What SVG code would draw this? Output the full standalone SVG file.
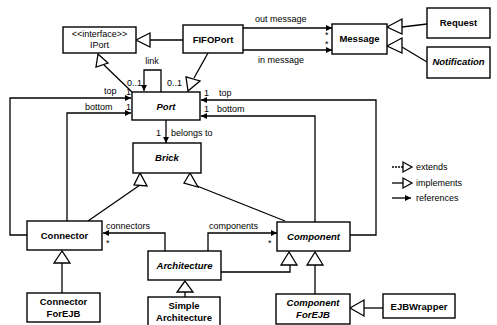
<svg xmlns="http://www.w3.org/2000/svg" width="497" height="325" viewBox="0 0 497 325">
<style>
.box{fill:#fff;stroke:#000;stroke-width:1.4}
.ln{fill:none;stroke:#000;stroke-width:1.3}
.tri{fill:#fff;stroke:#000;stroke-width:1.3}
.n{font-family:"Liberation Sans",Arial,sans-serif;font-size:9.5px;font-weight:bold;text-anchor:middle}
.ni{font-family:"Liberation Sans",Arial,sans-serif;font-size:9.5px;font-weight:bold;font-style:italic;text-anchor:middle}
.l{font-family:"Liberation Sans",Arial,sans-serif;font-size:9px}
</style>
<defs>
<marker id="fa" viewBox="0 0 8 8" refX="8" refY="4" markerWidth="6" markerHeight="6" orient="auto" markerUnits="userSpaceOnUse">
<path d="M0,0 L8,4 L0,8 z" fill="#000"/>
</marker>
</defs>
<rect width="497" height="325" fill="#fff"/>
<g id="connectors">
<line class="ln" x1="183" y1="40" x2="150" y2="40"/>
<polygon class="tri" points="136,40 150,33 150,47"/>
<line class="ln" x1="132" y1="92" x2="104" y2="65"/>
<polygon class="tri" points="98,54 96,67 108,63"/>
<line class="ln" x1="208" y1="53" x2="194" y2="78"/>
<polygon class="tri" points="188,91 186,77 200,81"/>
<polyline class="ln" points="161,92 161,70 144,70 144,91" marker-end="url(#fa)"/>
<line class="ln" x1="243" y1="28" x2="332" y2="28" marker-end="url(#fa)"/>
<line class="ln" x1="243" y1="50" x2="332" y2="50" marker-end="url(#fa)"/>
<line class="ln" x1="427" y1="24" x2="402" y2="27"/>
<polygon class="tri" points="387,27 402,19 402,34"/>
<line class="ln" x1="427" y1="62" x2="402" y2="47"/>
<polygon class="tri" points="387,46 402,38 402,53"/>
<polyline class="ln" points="27,235 10,235 10,98 131,98" marker-end="url(#fa)"/>
<polyline class="ln" points="67,221 67,113 131,113" marker-end="url(#fa)"/>
<polyline class="ln" points="350,235 376,235 376,100 201,100" marker-end="url(#fa)"/>
<polyline class="ln" points="315,222 315,116 201,116" marker-end="url(#fa)"/>
<line class="ln" x1="166" y1="120" x2="166" y2="143" marker-end="url(#fa)"/>
<line class="ln" x1="88" y1="221" x2="140" y2="185"/>
<polygon class="tri" points="140,173 134,185 147,186"/>
<line class="ln" x1="285" y1="221" x2="192" y2="184"/>
<polygon class="tri" points="190,173 184,183 198,187"/>
<polyline class="ln" points="165,251 165,233 103,233" marker-end="url(#fa)"/>
<polyline class="ln" points="208,251 208,233 277,233" marker-end="url(#fa)"/>
<polyline class="ln" points="221,272 290,272 290,265"/>
<polygon class="tri" points="289,252 281,265 297,265"/>
<line class="ln" x1="315" y1="294" x2="315" y2="265"/>
<polygon class="tri" points="315,252 307,265 323,265"/>
<line class="ln" x1="62" y1="293" x2="62" y2="263"/>
<polygon class="tri" points="62,251 54,263 70,263"/>
<line class="ln" x1="185" y1="297" x2="185" y2="292"/>
<polygon class="tri" points="185,281 177,292 193,292"/>
<line class="ln" x1="383" y1="308" x2="364" y2="308"/>
<polygon class="tri" points="350,308 364,300 364,316"/>
</g>
<g id="labels">
<text class="l" x="152" y="64" text-anchor="middle">link</text>
<text class="l" x="127" y="86">0..1</text>
<text class="l" x="167" y="86">0..1</text>
<text class="l" x="104" y="94">top</text>
<text class="l" x="126" y="95">1</text>
<text class="l" x="85" y="110">bottom</text>
<text class="l" x="126" y="110">1</text>
<text class="l" x="204" y="96">1</text>
<text class="l" x="219" y="96">top</text>
<text class="l" x="204" y="112">1</text>
<text class="l" x="217" y="112">bottom</text>
<text class="l" x="255" y="22">out message</text>
<text class="l" x="258" y="63">in message</text>
<text class="l" x="325" y="38">*</text>
<text class="l" x="325" y="47">*</text>
<text class="l" x="156" y="136">1</text>
<text class="l" x="171" y="136">belongs to</text>
<text class="l" x="106" y="229">connectors</text>
<text class="l" x="106" y="246">*</text>
<text class="l" x="209" y="229">components</text>
<text class="l" x="268" y="246">*</text>
</g>
<g id="IPort"><rect class="box" x="63" y="27" width="73" height="26"/>
<text class="l" x="99.5" y="37" text-anchor="middle" font-size="7.5">&lt;&lt;interface&gt;&gt;</text>
<text class="l" x="99.5" y="48" text-anchor="middle">IPort</text></g>
<g id="FIFOPort"><rect class="box" x="183" y="25" width="60" height="28"/><text class="n" x="213" y="43">FIFOPort</text></g>
<g id="Message"><rect class="box" x="332" y="24" width="55" height="30"/><text class="n" x="359.5" y="42">Message</text></g>
<g id="Request"><rect class="box" x="427" y="8" width="63" height="30"/><text class="n" x="458.5" y="26">Request</text></g>
<g id="Notification"><rect class="box" x="427" y="47" width="63" height="31"/><text class="ni" x="458.5" y="65">Notification</text></g>
<g id="Port"><rect class="box" x="132" y="92" width="68" height="28"/><text class="ni" x="166" y="110">Port</text></g>
<g id="Brick"><rect class="box" x="133" y="143" width="68" height="30"/><text class="ni" x="167" y="161">Brick</text></g>
<g id="Connector"><rect class="box" x="27" y="221" width="75" height="29"/><text class="n" x="64.5" y="239">Connector</text></g>
<g id="ConnectorForEJB"><rect class="box" x="27" y="293" width="73" height="29"/><text class="n" x="63.5" y="305">Connector</text><text class="n" x="63.5" y="317">ForEJB</text></g>
<g id="Architecture"><rect class="box" x="148" y="251" width="73" height="29"/><text class="ni" x="184.5" y="269">Architecture</text></g>
<g id="SimpleArchitecture"><rect class="box" x="148" y="297" width="72" height="30"/><text class="n" x="184" y="309">Simple</text><text class="n" x="184" y="321">Architecture</text></g>
<g id="Component"><rect class="box" x="277" y="222" width="73" height="29"/><text class="ni" x="313.5" y="240">Component</text></g>
<g id="ComponentForEJB"><rect class="box" x="276" y="294" width="74" height="30"/><text class="ni" x="313" y="306">Component</text><text class="ni" x="313" y="318">ForEJB</text></g>
<g id="EJBWrapper"><rect class="box" x="383" y="294" width="72" height="24"/><text class="n" x="419" y="310">EJBWrapper</text></g>
<g id="legend">
<line class="ln" x1="392" y1="167" x2="403" y2="167" stroke-dasharray="2,1"/>
<polygon class="tri" points="412,167 403,162 403,172"/>
<text class="l" x="416" y="170" font-size="8">extends</text>
<line class="ln" x1="392" y1="183" x2="403" y2="183"/>
<polygon class="tri" points="412,183 403,178 403,188"/>
<text class="l" x="416" y="186" font-size="8">implements</text>
<line class="ln" x1="392" y1="198" x2="411" y2="198" marker-end="url(#fa)"/>
<text class="l" x="416" y="201" font-size="8">references</text>
</g>
</svg>
